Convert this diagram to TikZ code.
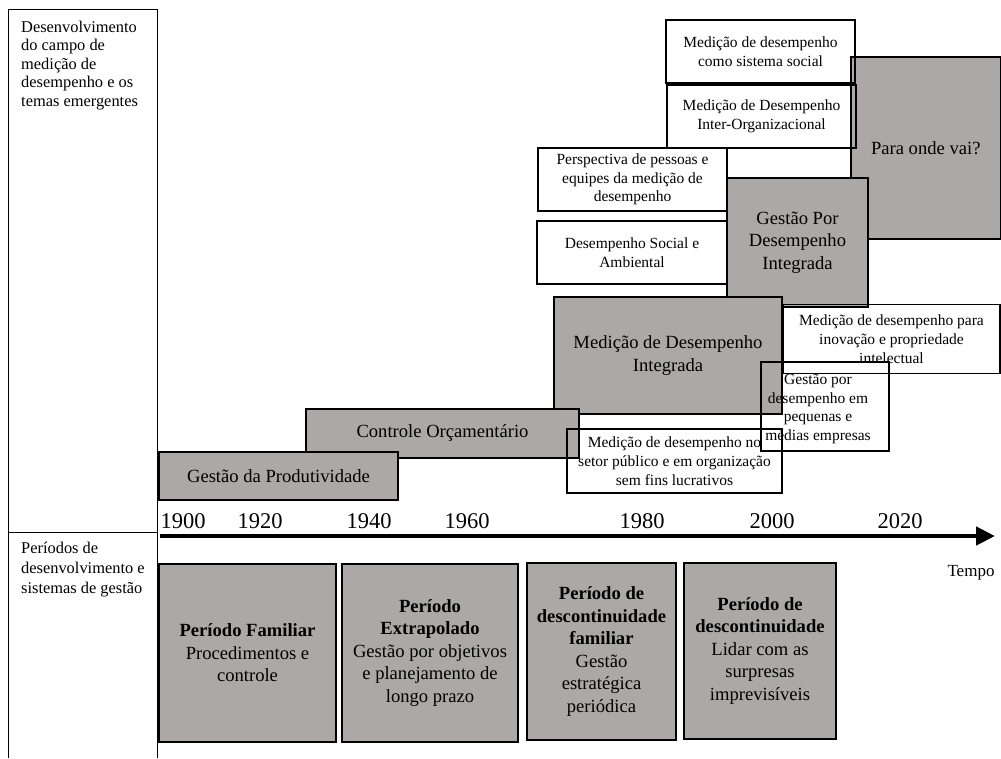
\documentclass[tikz,border=0pt]{standalone}
\usepackage{fontspec}
\setmainfont{Liberation Serif}
\usetikzlibrary{arrows.meta}
\definecolor{boxgray}{RGB}{172,168,167}
\newcommand\mainsize{\fontsize{18.6}{22.5}\selectfont}
\newcommand\smallsize{\fontsize{15.5}{18.7}\selectfont}
\newcommand\sidesize{\fontsize{16.4}{18.4}\selectfont}
\newcommand\yearsize{\fontsize{22.5}{27}\selectfont}
\begin{document}
\begin{tikzpicture}[x=1pt,y=-1pt,
  frame/.style={line width=1pt},
  box/.style={draw=black, line width=1.2pt, inner sep=0pt, align=center, anchor=center},
  graybox/.style={box, fill=boxgray, font=\mainsize},
  whitebox/.style={box, font=\smallsize},
  year/.style={font=\yearsize, inner sep=0pt},
  sidetext/.style={align=left, anchor=north west, inner sep=0pt},
]
\useasboundingbox (0,0) rectangle (1001,758);

% left column frame
\coordinate (tl) at (8,9);
\coordinate (tr) at (157,9);
\coordinate (bl) at (8,758);
\coordinate (br) at (157,758);
\coordinate (ml) at (8,532);
\coordinate (mr) at (157,532);
\draw[frame] (bl) -- (tl) -- (tr) -- (br);
\draw[frame] (ml) -- (mr);
\node[sidetext, font=\fontsize{16.4}{18.4}\selectfont] (topic) at (21,21)
  {Desenvolvimento\\do campo de\\medição de\\desempenho e os\\temas emergentes};
\node[sidetext, font=\fontsize{16.4}{19.8}\selectfont] (periods) at (21,542)
  {Períodos de\\desenvolvimento e\\sistemas de gestão};

% emerging themes
\node[graybox, minimum width=149.5, minimum height=182] (future) at (925.75,148) {Para onde vai?};
\node[whitebox, minimum width=189, minimum height=63] (social) at (760.5,51.5)
  {Medição de desempenho\\como sistema social};
\node[whitebox, minimum width=189, minimum height=63] (interorg) at (761.5,116.5)
  {Medição de Desempenho\\Inter-Organizacional};
\node[whitebox, minimum width=189, minimum height=63] (people) at (632.5,179.5)
  {Perspectiva de pessoas e\\equipes da medição de\\desempenho};
\node[whitebox, minimum width=190, minimum height=63] (envir) at (632,252.5)
  {Desempenho Social e\\Ambiental};
\node[graybox, minimum width=141, minimum height=129] (gpdi) at (797.5,242.5)
  {Gestão Por\\Desempenho\\Integrada};
\node[whitebox, minimum width=217, minimum height=69] (innov) at (891.5,339)
  {Medição de desempenho para\\inovação e propriedade\\intelectual};
\node[graybox, minimum width=228, minimum height=117] (mdi) at (668,355.5)
  {Medição de Desempenho\\Integrada};
\node[graybox, minimum width=273, minimum height=49] (budget) at (442.5,433.5)
  {Controle Orçamentário};
\node[graybox, minimum width=239, minimum height=48] (prod) at (278.5,476)
  {Gestão da Produtividade};
\node[whitebox, minimum width=215, minimum height=64] (public) at (674.5,461)
  {Medição de desempenho no\\setor público e em organização\\sem fins lucrativos};
\node[whitebox, minimum width=128, minimum height=89] (sme) at (825,406.5) {};
\node[font=\smallsize, align=center, inner sep=0pt] (smetext) at (818,409)
  {Gestão por\\desempenho em\\pequenas e\\médias empresas};

% time axis
\coordinate (axstart) at (160,536);
\coordinate (axend) at (995,536);
\draw[line width=4.5pt, -{Triangle[length=19pt, width=18pt]}] (axstart) -- (axend);
\node[year] (y1900) at (183,521) {1900};
\node[year] (y1920) at (260,521) {1920};
\node[year] (y1940) at (369,521) {1940};
\node[year] (y1960) at (467,521) {1960};
\node[year] (y1980) at (642,521) {1980};
\node[year] (y2000) at (772,521) {2000};
\node[year] (y2020) at (900,521) {2020};
\node[font=\fontsize{17}{20}\selectfont, inner sep=0pt] (tempo) at (971,573) {Tempo};

% development periods
\node[graybox, minimum width=177, minimum height=178] (p1) at (247.5,653)
  {\textbf{Período Familiar}\\Procedimentos e\\controle};
\node[graybox, minimum width=176, minimum height=178] (p2) at (430,653)
  {\textbf{Período}\\\textbf{Extrapolado}\\Gestão por objetivos\\e planejamento de\\longo prazo};
\node[graybox, minimum width=149, minimum height=177] (p3) at (601.5,651.5)
  {\textbf{Período de}\\\textbf{descontinuidade}\\\textbf{familiar}\\Gestão\\estratégica\\periódica};
\node[graybox, minimum width=152, minimum height=176] (p4) at (760,651)
  {\textbf{Período de}\\\textbf{descontinuidade}\\Lidar com as\\surpresas\\imprevisíveis};
\end{tikzpicture}
\end{document}
